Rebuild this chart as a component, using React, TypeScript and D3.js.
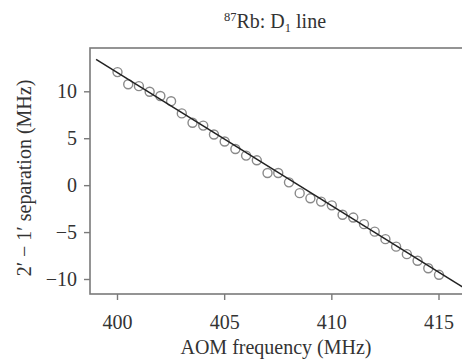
import React from 'react';
import * as d3 from 'd3';

// AOM frequency (MHz) of each measurement
const freqs = [
  400, 400.5, 401, 401.5, 402, 402.5, 403, 403.5, 404, 404.5, 405, 405.5, 406, 406.5, 407, 407.5,
  408, 408.5, 409, 409.5, 410, 410.5, 411, 411.5, 412, 412.5, 413, 413.5, 414, 414.5, 415,
];
// measured 2'-1' separation (MHz)
const separations = [
  12.1, 10.8, 10.6, 10.0, 9.55, 9.0, 7.7, 6.7, 6.4, 5.45, 4.7, 3.9, 3.2, 2.7, 1.35, 1.35,
  0.35, -0.8, -1.35, -1.7, -2.1, -3.1, -3.4, -4.1, -4.9, -5.7, -6.5, -7.3, -8.0, -8.8, -9.5,
];
// linear fit, end points
const fitX = [399, 416.2];
const fitY = [13.45, -10.95];

const xTicks = [400, 405, 410, 415];
const yTicks = [-10, -5, 0, 5, 10];

const W = 462;
const H = 363;
const frame = { left: 90, top: 48, bottom: 294, right: 480 };
const serif = '"Liberation Serif", "DejaVu Serif", serif';
const ink = '#333';
const axisCol = '#7a7a7a';

const App = () => {
  const x = d3.scaleLinear().domain([400, 415]).range([117.5, 439]);
  const y = d3.scaleLinear().domain([-10, 10]).range([279.5, 91.8]);

  const fitLine = d3.line<number>()
    .x((d) => x(d))
    .y((d, i) => y(fitY[i]))(fitX);

  return (
    <svg width={W} height={H} style={{ position: 'absolute', left: 0, top: 0, background: '#fff' }}>
      {/* title */}
      <text x={275} y={28} textAnchor="middle" fontFamily={serif} fontSize={20} fill={ink}>
        <tspan fontSize={12.5} dy={-7.5}>87</tspan>
        <tspan dy={7.5}>Rb: D</tspan>
        <tspan fontSize={12.5} dy={4}>1</tspan>
        <tspan dy={-4}> line</tspan>
      </text>

      {/* frame */}
      <rect x={frame.left} y={frame.top} width={frame.right - frame.left} height={frame.bottom - frame.top}
        fill="none" stroke={axisCol} strokeWidth={1.6} />

      {/* x ticks */}
      {xTicks.map((t) => (
        <g key={t}>
          <line x1={x(t)} x2={x(t)} y1={frame.bottom} y2={frame.bottom + 6} stroke={axisCol} strokeWidth={1.4} />
          <text x={x(t)} y={329} textAnchor="middle" fontFamily={serif} fontSize={20} fill={ink}>{t}</text>
        </g>
      ))}

      {/* y ticks */}
      {yTicks.map((t) => (
        <g key={t}>
          <line x1={frame.left - 6} x2={frame.left} y1={y(t)} y2={y(t)} stroke={axisCol} strokeWidth={1.4} />
          <text x={frame.left - 13} y={y(t) + 6.5} textAnchor="end" fontFamily={serif} fontSize={20} fill={ink}>
            {t < 0 ? '\u2212' + Math.abs(t) : t}
          </text>
        </g>
      ))}

      {/* axis labels */}
      <text x={276} y={354} textAnchor="middle" fontFamily={serif} fontSize={20} fill={ink}>AOM frequency (MHz)</text>
      <text transform={`translate(31,178) rotate(-90)`} textAnchor="middle" fontFamily={serif} fontSize={20} fill={ink}>
        {'2\u2032 \u2212 1\u2032 separation (MHz)'}
      </text>

      {/* data */}
      {freqs.map((f, i) => (
        <circle key={f} cx={x(f)} cy={y(separations[i])} r={4.5} fill="none" stroke="#8a8a8a" strokeWidth={1.4} />
      ))}

      {/* fit */}
      <path d={fitLine || ''} fill="none" stroke="#222" strokeWidth={1.5} />
    </svg>
  );
};

export default App;
